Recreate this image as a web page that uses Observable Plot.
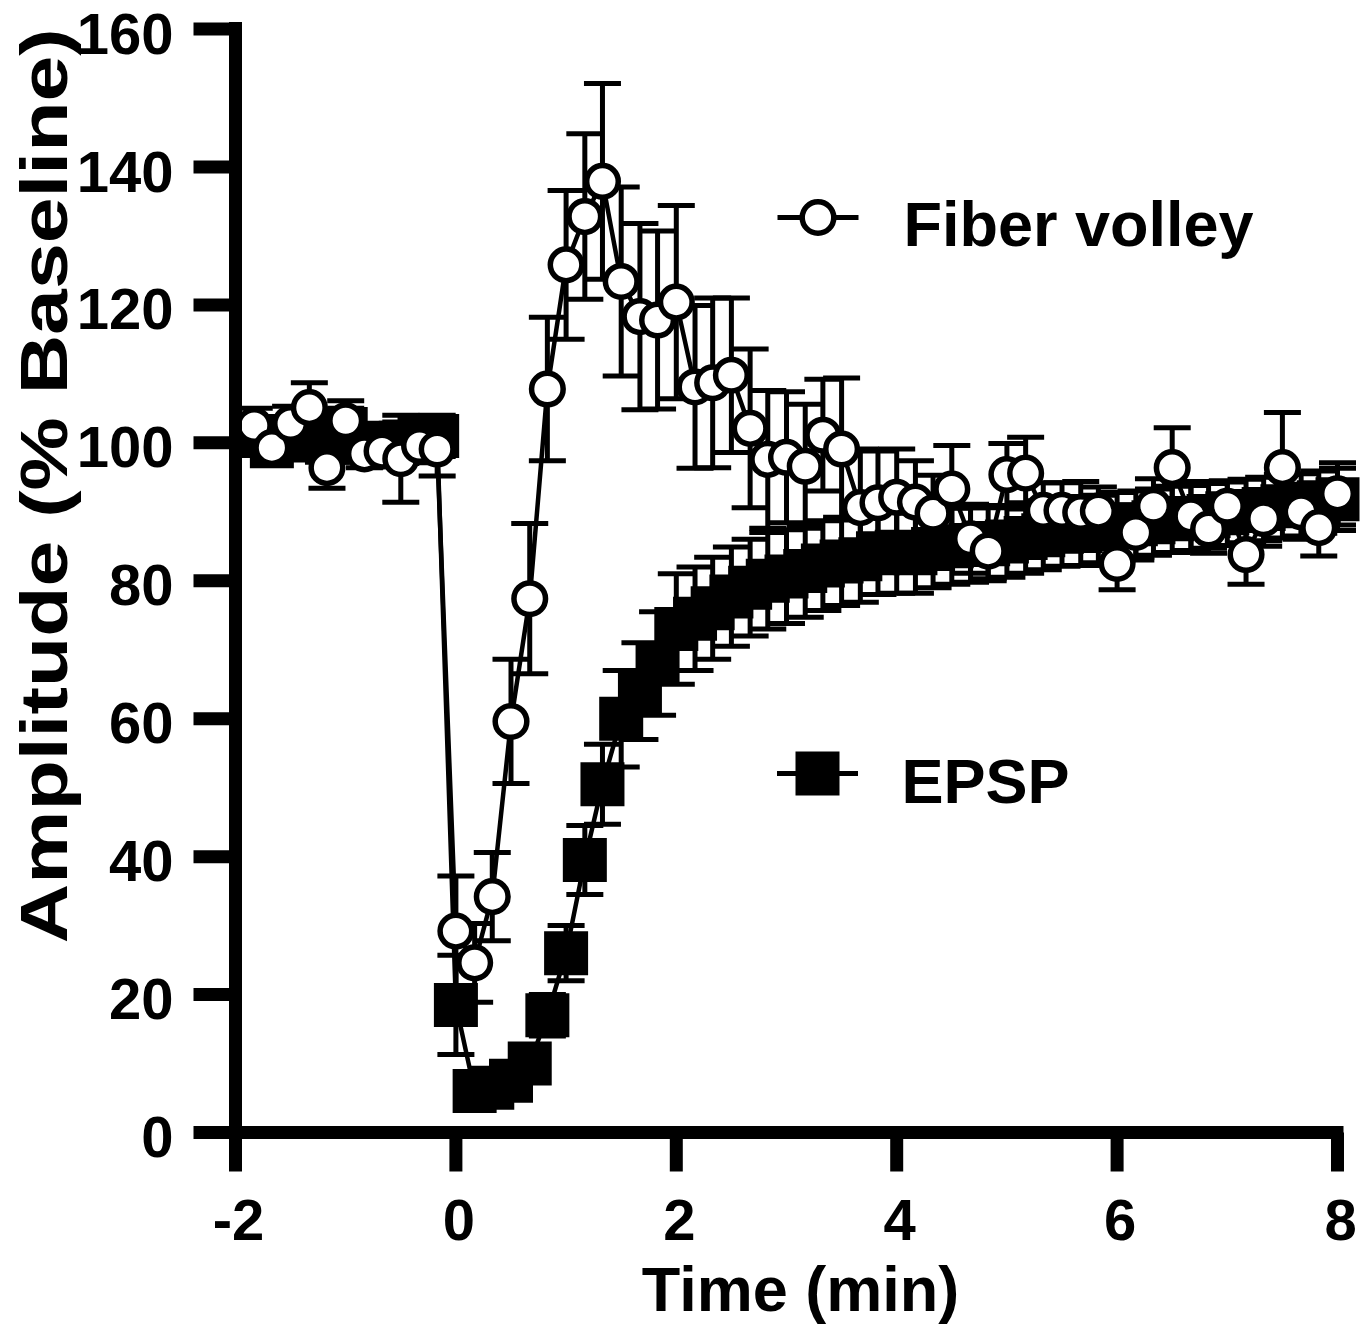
<!DOCTYPE html>
<html>
<head>
<meta charset="utf-8">
<script src="https://cdn.jsdelivr.net/npm/d3@7"></script>
<script src="https://cdn.jsdelivr.net/npm/@observablehq/plot@0.6"></script>
<style>
  html, body { margin: 0; padding: 0; background: #ffffff; }
  #chart { width: 1370px; height: 1327px; }
</style>
</head>
<body>
<div id="chart"></div>
<script>
// ---------------- data ----------------
const times = [
  -1.83, -1.67, -1.5, -1.33, -1.17, -1, -0.83, -0.67, -0.5, -0.33, -0.17,
  0, 0.17, 0.33, 0.5, 0.67, 0.83, 1, 1.17, 1.33, 1.5, 1.67, 1.83,
  2, 2.17, 2.33, 2.5, 2.67, 2.83, 3, 3.17, 3.33, 3.5, 3.67, 3.83,
  4, 4.17, 4.33, 4.5, 4.67, 4.83, 5, 5.17, 5.33, 5.5, 5.67, 5.83,
  6, 6.17, 6.33, 6.5, 6.67, 6.83, 7, 7.17, 7.33, 7.5, 7.67, 7.83, 8
];

const fiberVolley = [
  102.5, 99.3, 102.8, 105.1, 96.4, 103.2, 98.4, 98.8, 97.7, 99.6, 99.1,
  29.2, 24.6, 34.2, 59.6, 77.4, 107.8, 125.8, 132.8, 137.9, 123.4, 118.3, 117.8,
  120.4, 108.1, 108.7, 109.8, 102.1, 97.6, 97.9, 96.6, 101.1, 99.1, 90.6, 91.3,
  92.1, 91.4, 89.8, 93.3, 86.1, 84.3, 95.4, 95.6, 90.2, 90.2, 89.9, 90.1,
  82.5, 87.0, 90.8, 96.4, 89.4, 87.5, 90.8, 83.8, 89.0, 96.4, 90.0, 87.7, 92.6
];
const fiberVolleyErr = [
  2.5, 2, 2.5, 3.6, 3, 2.9, 2, 2, 6.3, 2.5, 3.9,
  8, 5.7, 6.4, 9, 10.9, 10.4, 10.8, 12, 14.2, 13.7, 13.5, 12.9,
  14, 11.8, 12.3, 11.2, 11.5, 10, 9.5, 9, 8.1, 10.3, 8.5, 7.5,
  7, 6, 5.5, 6.3, 5, 4, 4.5, 5.2, 4, 4, 4.5, 3.5,
  3.8, 4, 4, 5.8, 5, 3.5, 3.5, 4.3, 4, 8, 4, 4.1, 4.5
];

const epsp = [
  101, 99.5, 100.5, 101.5, 100, 102, 100, 99.5, 100, 101, 101,
  18.5, 6, 6.5, 7.5, 10, 17, 26, 39.5, 50.5, 60, 64, 68,
  73, 74.5, 76, 77.7, 79, 80, 80.6, 81.4, 82.2, 82.8, 83.1, 84,
  84.2, 84, 84.6, 85, 85.2, 85.3, 85.7, 86.2, 86.6, 87.1, 87.2, 87.5,
  87.9, 88.2, 88.5, 88.9, 89.1, 89.4, 89.8, 90.1, 90.4, 90.8, 91, 91.4, 91.8
];
const epspErr = [
  2.5, 2, 3, 3, 2.5, 3, 2, 2.5, 3, 2.5, 3,
  7.2, 2, 2, 2, 2.5, 3, 4, 5, 5.8, 7, 7, 7.5,
  8, 7.5, 7.4, 7.2, 7, 7, 6.8, 6.7, 6.5, 6.4, 6.2, 6,
  6, 5.8, 5.6, 5.5, 5.4, 5.3, 5.2, 5.1, 5, 5, 5, 4.9,
  4.9, 4.8, 4.8, 4.8, 4.7, 4.7, 4.7, 4.6, 4.6, 4.6, 4.5, 4.5, 4.5
];

const xTicks = [-2, 0, 2, 4, 6, 8];
const yTicks = [0, 20, 40, 60, 80, 100, 120, 140, 160];
const xDomain = [-2, 8];
const yDomain = [0, 160];
const seriesNames = ["Fiber volley", "EPSP"];
const xTitle = "Time (min)";
const yTitle = "Amplitude (% Baseline)";

// ---------------- derived tables ----------------
const fvData = times.map((t, i) => ({t, v: fiberVolley[i], e: fiberVolleyErr[i]}));
const epData = times.map((t, i) => ({t, v: epsp[i], e: epspErr[i]}));
const caps = rows => rows.flatMap(d => [{t: d.t, y: d.v - d.e}, {t: d.t, y: d.v + d.e}]);

// custom symbols
const hline = {draw(ctx, size) { const r = Math.sqrt(size / Math.PI); ctx.moveTo(-r, 0); ctx.lineTo(r, 0); }};
const vline = {draw(ctx, size) { const r = Math.sqrt(size / Math.PI); ctx.moveTo(0, -r); ctx.lineTo(0, r); }};
const square = {draw(ctx, size) { const r = Math.sqrt(size / Math.PI); ctx.rect(-r, -r, 2 * r, 2 * r); }};

const FONT = "'Liberation Sans', Arial, Helvetica, sans-serif";
const fmt = d => d < 0 ? "-" + (-d) : String(d);

const chart = Plot.plot({
  width: 1370,
  height: 1327,
  marginLeft: 235,
  marginRight: 33,
  marginTop: 28.5,
  marginBottom: 195,
  x: {domain: xDomain, axis: null},
  y: {domain: yDomain, axis: null},
  style: {fontFamily: FONT, background: "#ffffff", color: "#000000", overflow: "visible"},
  marks: [
    // EPSP error bars
    Plot.ruleX(epData, {x: "t", y1: d => d.v - d.e, y2: d => d.v + d.e, stroke: "black", strokeWidth: 5}),
    Plot.dot(caps(epData), {x: "t", y: "y", symbol: hline, r: 18.5, fill: "none", stroke: "black", strokeWidth: 5}),
    Plot.line(epData, {x: "t", y: "v", stroke: "black", strokeWidth: 4.5}),
    Plot.dot(epData, {x: "t", y: "v", symbol: square, r: 22, fill: "black", stroke: "none"}),

    // Fiber volley
    Plot.ruleX(fvData, {x: "t", y1: d => d.v - d.e, y2: d => d.v + d.e, stroke: "black", strokeWidth: 5}),
    Plot.dot(caps(fvData), {x: "t", y: "y", symbol: hline, r: 18.5, fill: "none", stroke: "black", strokeWidth: 5}),
    Plot.line(fvData, {x: "t", y: "v", stroke: "black", strokeWidth: 4.5}),
    Plot.dot(fvData, {x: "t", y: "v", symbol: "circle", r: 15.8, fill: "white", stroke: "black", strokeWidth: 5.5}),

    // axes lines
    Plot.ruleX([xDomain[0]], {stroke: "black", strokeWidth: 13, strokeLinecap: "square"}),
    Plot.ruleY([yDomain[0]], {stroke: "black", strokeWidth: 13, strokeLinecap: "square"}),
    // y ticks
    Plot.dot(yTicks, {x: () => xDomain[0], y: d => d, symbol: hline, r: 21, dx: -21, fill: "none", stroke: "black", strokeWidth: 13}),
    Plot.text(yTicks, {x: () => xDomain[0], y: d => d, text: fmt, dx: -62, dy: 6, textAnchor: "end",
      fontSize: 58, fontWeight: "bold", fill: "black"}),
    // x ticks
    Plot.dot(xTicks, {x: d => d, y: () => yDomain[0], symbol: vline, r: 19.5, dy: 19.5, fill: "none", stroke: "black", strokeWidth: 13}),
    Plot.text(xTicks, {x: d => d, y: () => yDomain[0], text: fmt, dx: 3, dy: 66, lineAnchor: "top",
      fontSize: 58, fontWeight: "bold", fill: "black"}),

    // axis titles
    Plot.text([xTitle], {frameAnchor: "bottom", text: d => d, dx: 14, dy: 134, lineAnchor: "top",
      fontSize: 63, fontWeight: "bold", fill: "black"}),
    Plot.text([yTitle], {frameAnchor: "left", text: d => d, rotate: -90, dx: -190, dy: -95,
      textAnchor: "middle", lineAnchor: "middle", fontSize: 66, fontWeight: "bold", fill: "black",
      className: "ytitle"}),

    // legend: Fiber volley
    Plot.dot([seriesNames[0]], {frameAnchor: "top-left", dx: 582.5, dy: 188.5, symbol: hline, r: 40.5, fill: "none", stroke: "black", strokeWidth: 5}),
    Plot.dot([seriesNames[0]], {frameAnchor: "top-left", dx: 582.5, dy: 188.5, symbol: "circle", r: 15.8, fill: "white", stroke: "black", strokeWidth: 5.5}),
    Plot.text([seriesNames[0]], {frameAnchor: "top-left", text: d => d, dx: 668, dy: 216.5, lineAnchor: "bottom", textAnchor: "start",
      fontSize: 63, fontWeight: "bold", fill: "black"}),
    // legend: EPSP
    Plot.dot([seriesNames[1]], {frameAnchor: "top-left", dx: 582, dy: 744.5, symbol: hline, r: 40.5, fill: "none", stroke: "black", strokeWidth: 5}),
    Plot.dot([seriesNames[1]], {frameAnchor: "top-left", dx: 582, dy: 744.5, symbol: square, r: 22, fill: "black", stroke: "none"}),
    Plot.text([seriesNames[1]], {frameAnchor: "top-left", text: d => d, dx: 666, dy: 773.5, lineAnchor: "bottom", textAnchor: "start",
      fontSize: 63, fontWeight: "bold", fill: "black"})
  ]
});

// the reference's vertical title is drawn elongated along its reading direction
d3.select(chart).selectAll(".ytitle text")
  .attr("textLength", 915)
  .attr("lengthAdjust", "spacingAndGlyphs");

document.getElementById("chart").appendChild(chart);
</script>
</body>
</html>
